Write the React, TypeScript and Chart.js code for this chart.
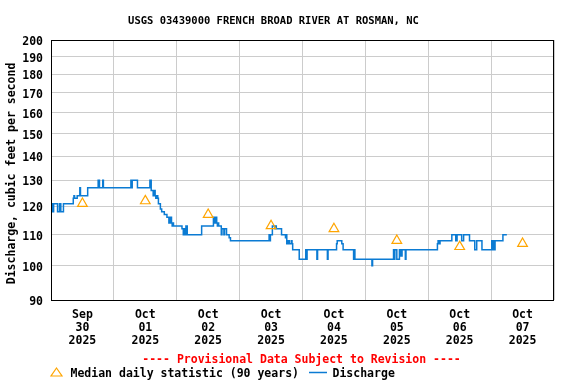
import React, { useEffect, useRef } from "react";
import { Chart, registerables } from "chart.js";

Chart.register(...registerables);

const FONT = "'DejaVu Sans Mono', monospace";

const titleText = "USGS 03439000 FRENCH BROAD RIVER AT ROSMAN, NC";
const yAxisTitle = "Discharge, cubic feet per second ";
const provisionalText = "---- Provisional Data Subject to Revision ----";
const medianLabel = "Median daily statistic (90 years)";
const dischargeLabel = "Discharge";

const tickMonths = ["Sep", "Oct", "Oct", "Oct", "Oct", "Oct", "Oct", "Oct"];
const tickDays = ["30", "01", "02", "03", "04", "05", "06", "07"];
const tickYears = ["2025", "2025", "2025", "2025", "2025", "2025", "2025", "2025"];
const xTickHours = [0, 12, 24, 36, 48, 60, 72, 84, 96, 108, 120, 132, 144, 156, 168, 180, 192];
const yTicks = [90, 100, 110, 120, 130, 140, 150, 160, 170, 180, 190, 200];

// hours since 2025-09-30 00:00
const medianHours = [12, 36, 60, 84, 108, 132, 156, 180];
const medianValues = [121, 122, 117, 113, 112, 108, 106, 107];

// discharge change points (hours since 2025-09-30 00:00), step series
const qHours = [
  0, 0.25, 0.5, 0.75, 1.0, 2.5, 3.25, 3.75, 4.75, 8.5, 8.75, 9.0, 10.0, 11.0, 11.25, 14.0,
  18.0, 18.5, 19.75, 20.0, 30.5, 30.75, 31.0, 33.0, 37.75, 38.25, 39.0, 39.5, 39.75, 40.0,
  40.5, 40.75, 41.0, 41.75, 42.25, 43.25, 44.25, 45.0, 45.25, 45.5, 45.75, 46.0, 46.25,
  46.5, 46.75, 50.0, 50.5, 51.0, 51.25, 51.5, 52.0, 57.5, 62.0, 62.5, 62.75, 63.25, 63.5,
  63.75, 64.0, 65.0, 65.25, 66.0, 66.25, 67.0, 68.0, 68.5, 83.25, 83.5, 83.75, 84.5, 85.5,
  85.75, 86.0, 88.0, 89.5, 89.75, 90.0, 90.5, 91.0, 91.75, 92.0, 92.25, 94.75, 97.25, 97.5,
  97.75, 101.5, 101.75, 105.5, 105.75, 109.0, 109.25, 111.0, 111.5, 115.5, 115.75, 116.0,
  122.5, 122.75, 130.75, 131.0, 131.25, 132.0, 133.0, 133.5, 134.0, 135.25, 135.5, 147.5,
  147.75, 148.25, 148.5, 153.0, 154.5, 155.0, 156.75, 157.5, 159.75, 161.75, 162.5, 164.5,
  168.25, 168.5, 168.75, 169.0, 169.5, 172.5, 174.0,
];
const qValues = [
  121, 118, 121, 118, 121, 118, 121, 118, 121, 123, 124, 123, 124, 127, 124, 127,
  130, 127, 130, 127, 130, 127, 130, 127, 130, 126, 124, 126, 124, 123,
  124, 123, 121, 119, 118, 117, 116, 114, 116, 114, 116, 114, 113,
  114, 113, 112, 110, 112, 110, 113, 110, 113, 116, 114, 116, 114, 113,
  114, 113, 110, 112, 110, 112, 110, 109, 108, 110, 108, 110, 113, 112,
  113, 112, 110, 109, 110, 107, 108, 107, 108, 107, 105, 102, 105, 102,
  105, 102, 105, 102, 105, 107, 108, 107, 105, 102, 105, 102,
  100, 102, 105, 102, 105, 102, 105, 103, 105, 102, 105, 107,
  108, 107, 108, 110, 108, 110, 108, 110, 108, 105, 108, 105,
  108, 105, 108, 105, 108, 110, 110,
];

const overlayPlugin = {
  id: "usgsOverlay",
  afterDraw(chart: any) {
    const ctx = chart.ctx as CanvasRenderingContext2D;
    const { left, top, right, bottom } = chart.chartArea;
    ctx.save();
    // frame
    ctx.strokeStyle = "#000000";
    ctx.lineWidth = 1;
    ctx.strokeRect(Math.round(left) + 0.5, Math.round(top) + 0.5, Math.round(right - left) - 1, Math.round(bottom - top));
    // title
    ctx.fillStyle = "#000000";
    ctx.textAlign = "center";
    ctx.textBaseline = "middle";
    ctx.font = `bold 10.5px ${FONT}`;
    ctx.fillText(titleText, 273.5, 21);
    // provisional note
    ctx.font = `bold 11.5px ${FONT}`;
    ctx.fillStyle = "#ff0000";
    ctx.fillText(provisionalText, 301.5, 360.5);
    // legend
    const ly = 372.5;
    ctx.strokeStyle = "#ffa500";
    ctx.lineWidth = 1.2;
    ctx.beginPath();
    ctx.moveTo(56.5, 368);
    ctx.lineTo(62, 376);
    ctx.lineTo(51, 376);
    ctx.closePath();
    ctx.stroke();
    ctx.fillStyle = "#000000";
    ctx.textAlign = "left";
    ctx.fillText(medianLabel, 70.5, ly + 2);
    ctx.strokeStyle = "#0b7bd3";
    ctx.lineWidth = 1.5;
    ctx.beginPath();
    ctx.moveTo(309, ly);
    ctx.lineTo(327, ly);
    ctx.stroke();
    ctx.fillText(dischargeLabel, 332.5, ly + 2);
    ctx.restore();
  },
};

export default function App() {
  const canvasRef = useRef<HTMLCanvasElement | null>(null);

  useEffect(() => {
    const canvas = canvasRef.current;
    if (!canvas) return;
    const tickFont = { family: FONT, size: 11.5, weight: "bold" as const, lineHeight: 1.15 };
    const chart = new Chart(canvas, {
      type: "line",
      data: {
        datasets: [
          {
            label: medianLabel,
            data: medianHours.map((h, i) => ({ x: h, y: medianValues[i] })),
            showLine: false,
            pointStyle: "triangle",
            pointRadius: 5.6,
            pointBorderWidth: 1.2,
            pointBorderColor: "#ffa500",
            pointBackgroundColor: "rgba(0,0,0,0)",
            borderColor: "#ffa500",
            backgroundColor: "rgba(0,0,0,0)",
          },
          {
            label: dischargeLabel,
            data: qHours.map((h, i) => ({ x: h, y: qValues[i] })),
            stepped: true,
            borderColor: "#0b7bd3",
            borderWidth: 1.5,
            pointRadius: 0,
            fill: false,
          },
        ],
      },
      options: {
        animation: false,
        responsive: false,
        layout: { padding: { top: 40, right: 22, bottom: 0, left: 0 } },
        plugins: {
          legend: { display: false },
          tooltip: { enabled: false },
          title: { display: false },
        },
        scales: {
          x: {
            type: "linear",
            min: 0,
            max: 192,
            afterBuildTicks: (s: any) => {
              s.ticks = xTickHours.map((v) => ({ value: v }));
            },
            afterFit: (s: any) => {
              s.height = 84;
            },
            grid: {
              drawTicks: false,
              color: (c: any) => (c.tick && c.tick.value % 24 === 0 ? "#cccccc" : "rgba(0,0,0,0)"),
              lineWidth: 1,
            },
            border: { display: false },
            ticks: {
              autoSkip: false,
              maxRotation: 0,
              padding: 8,
              color: "#000000",
              font: tickFont,
              callback: (value: any) => {
                const v = Number(value);
                if (v % 24 === 12) {
                  const i = (v - 12) / 24;
                  return [tickMonths[i], tickDays[i], tickYears[i]];
                }
                return "";
              },
            },
          },
          y: {
            type: "logarithmic",
            min: 90,
            max: 200,
            afterBuildTicks: (s: any) => {
              s.ticks = yTicks.map((v) => ({ value: v }));
            },
            afterFit: (s: any) => {
              s.width = 51;
            },
            grid: { drawTicks: false, color: "#cccccc", lineWidth: 1 },
            border: { display: false },
            ticks: {
              padding: 8,
              labelOffset: 2,
              color: "#000000",
              font: tickFont,
              callback: (value: any) => String(value),
            },
            title: {
              display: true,
              text: yAxisTitle,
              color: "#000000",
              font: tickFont,
              padding: { top: 5, bottom: 0 },
            },
          },
        },
      },
      plugins: [overlayPlugin],
    });
    return () => chart.destroy();
  }, []);

  return (
    <div style={{ position: "absolute", left: 0, top: 0, width: 576, height: 384, background: "#ffffff" }}>
      <canvas ref={canvasRef} width={576} height={384} style={{ display: "block" }} />
    </div>
  );
}
